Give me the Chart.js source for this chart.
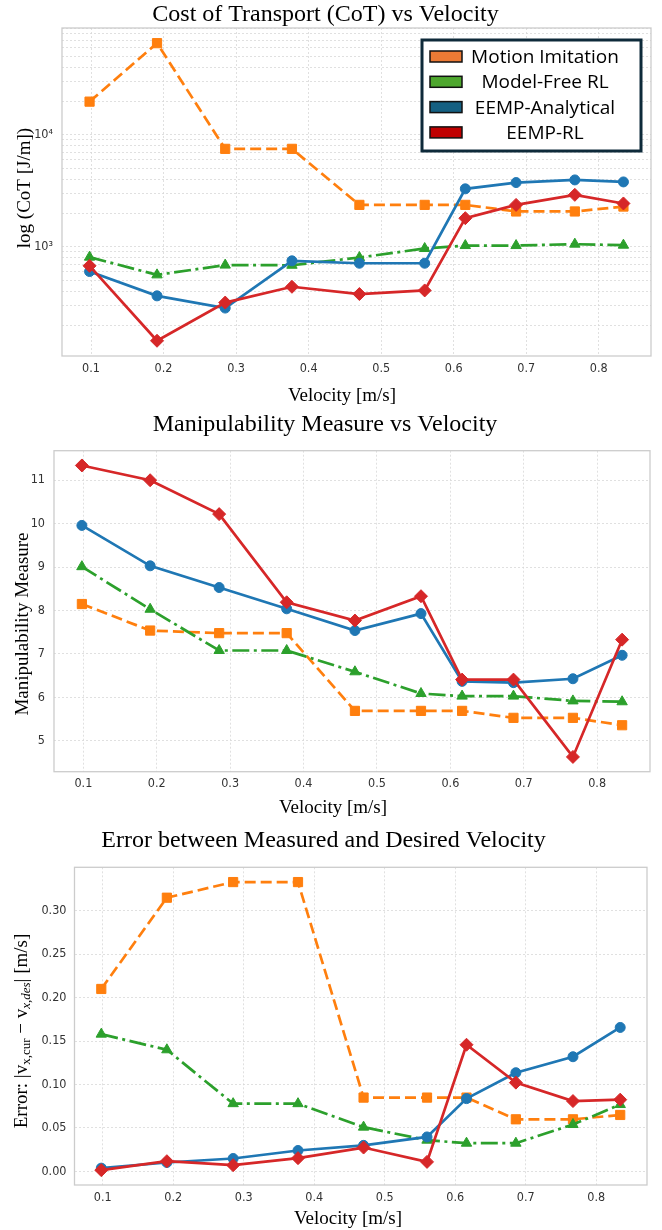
<!DOCTYPE html>
<html lang="en">
<head>
<meta charset="UTF-8">
<title>CoT, Manipulability and Velocity Error vs Velocity</title>
<script src="https://cdn.jsdelivr.net/npm/chart.js"></script>
<style>
  body { margin: 0; background: #fff; }
  .panel { position: absolute; left: 0; width: 662px; }
</style>
</head>
<body>
<div class="panel" style="top:0;height:405px"><canvas id="cotChart" width="662" height="405"></canvas></div>
<div class="panel" style="top:405px;height:413px"><canvas id="manipChart" width="662" height="413"></canvas></div>
<div class="panel" style="top:818px;height:412px"><canvas id="errChart" width="662" height="412"></canvas></div>

<script>
// ---- data ----
const velocity = [0.098, 0.191, 0.285, 0.377, 0.47, 0.56, 0.616, 0.686, 0.767, 0.834];
const methodNames = ['Motion Imitation', 'Model-Free RL', 'EEMP-Analytical', 'EEMP-RL'];

const cotMotion = [19800, 65900, 7500, 7500, 2370, 2370, 2370, 2070, 2070, 2290];
const cotModelFree = [809, 562, 687, 685, 803, 966, 1027, 1027, 1057, 1035];
const cotAnalytical = [602, 365, 284, 750, 714, 714, 3296, 3750, 3960, 3800];
const cotRL = [677, 145, 318, 440, 379, 408, 1803, 2370, 2913, 2440];

const manipMotion = [8.15, 7.54, 7.48, 7.48, 5.69, 5.69, 5.69, 5.53, 5.53, 5.36];
const manipModelFree = [9.01, 8.03, 7.08, 7.08, 6.59, 6.09, 6.03, 6.03, 5.92, 5.90];
const manipAnalytical = [9.96, 9.03, 8.53, 8.04, 7.54, 7.93, 6.37, 6.34, 6.43, 6.97];
const manipRL = [11.34, 11.0, 10.22, 8.19, 7.77, 8.33, 6.41, 6.41, 4.63, 7.33];

const errMotion = [0.210, 0.315, 0.333, 0.333, 0.085, 0.085, 0.085, 0.060, 0.060, 0.065];
const errModelFree = [0.158, 0.140, 0.078, 0.078, 0.051, 0.036, 0.0325, 0.0325, 0.054, 0.077];
const errAnalytical = [0.0038, 0.0103, 0.0149, 0.0241, 0.030, 0.0397, 0.0838, 0.1136, 0.132, 0.1657];
const errRL = [0.0015, 0.0118, 0.0072, 0.0153, 0.0275, 0.011, 0.1458, 0.1022, 0.081, 0.0826];

// ticks
const velocityTicks = [0.1, 0.2, 0.3, 0.4, 0.5, 0.6, 0.7, 0.8];
const cotGridTicks = [200, 300, 400, 500, 600, 700, 800, 900, 1000, 2000, 3000, 4000, 5000, 6000, 7000, 8000, 9000, 10000, 20000, 30000, 40000, 50000, 60000, 70000, 80000, 90000];
const cotLabelTicks = {1000: '10³', 10000: '10⁴'};
const manipTicks = [5, 6, 7, 8, 9, 10, 11];
const errTicks = [0, 0.05, 0.10, 0.15, 0.20, 0.25, 0.30];

// ---- styling ----
const lineColors = ['#ff7f0e', '#2ca02c', '#1f77b4', '#d62728'];
const legendColors = ['#ec7a35', '#4ea72e', '#156082', '#c00000'];
const dashes = [[11, 5], [17, 4.5, 3, 4.5], [], []];
const markers = ['rect', 'triangle', 'circle', 'rectRot'];
const markerRadius = [6.5, 6, 5, 6.5];
const drawOrder = [3, 2, 1, 0];

const tickFont = {family: "'DejaVu Sans Condensed', 'Liberation Sans', sans-serif", size: 12.5};
const serif = "'Liberation Serif', 'DejaVu Serif', serif";

function makeDatasets(series) {
  return series.map((vals, i) => ({
    label: methodNames[i],
    data: velocity.map((v, k) => ({x: v, y: vals[k]})),
    borderColor: lineColors[i],
    backgroundColor: lineColors[i],
    pointBackgroundColor: lineColors[i],
    pointBorderColor: lineColors[i],
    borderWidth: 2.7,
    borderDash: dashes[i],
    pointStyle: markers[i],
    pointRadius: markerRadius[i],
    pointBorderWidth: 1,
    order: drawOrder[i],
    tension: 0
  }));
}

const gridOpts = {color: '#d9d9d9', lineWidth: 0.8, drawTicks: false};
const borderOpts = {display: false, dash: [2, 2]};

function xScale(height) {
  return {
    type: 'linear', min: 0.06, max: 0.872,
    grid: gridOpts, border: borderOpts,
    ticks: {font: tickFont, color: '#333', padding: 5, autoSkip: false, maxRotation: 0,
      callback: v => v.toFixed(1)},
    afterBuildTicks: s => { s.ticks = velocityTicks.map(v => ({value: v})); },
    afterFit: s => { s.height = height; }
  };
}

// light grey box around the plot area
const framePlugin = {
  id: 'frame',
  beforeDatasetsDraw(chart) {
    const {ctx, chartArea: a} = chart;
    ctx.save();
    ctx.strokeStyle = '#cccccc';
    ctx.lineWidth = 1.3;
    ctx.strokeRect(a.left, a.top, a.right - a.left, a.bottom - a.top);
    ctx.restore();
  }
};

// axis captions (serif, with sub/superscript parts)
const captionsPlugin = {
  id: 'captions',
  afterDraw(chart, args, opts) {
    const ctx = chart.ctx;
    const items = opts.items || [];
    for (let n = 0; n < items.length; n++) {
      const item = items[n];
      const parts = [];
      let total = 0;
      for (let k = 0; k < item.parts.length; k++) {
        const p = item.parts[k];
        ctx.font = p.font;
        const w = ctx.measureText(p.text).width;
        parts.push({text: p.text, font: p.font, dy: p.dy || 0, w: w});
        total += w;
      }
      ctx.save();
      ctx.translate(item.x, item.y);
      if (item.rotate) ctx.rotate(-Math.PI / 2);
      ctx.fillStyle = '#000';
      ctx.textBaseline = 'middle';
      ctx.textAlign = 'left';
      let x = -total / 2;
      parts.forEach(p => { ctx.font = p.font; ctx.fillText(p.text, x, p.dy); x += p.w; });
      ctx.restore();
    }
  }
};

// boxed legend drawn inside the CoT plot
const boxLegendPlugin = {
  id: 'boxLegend',
  afterDraw(chart, args, opts) {
    const ctx = chart.ctx;
    ctx.save();
    ctx.fillStyle = '#fff';
    ctx.fillRect(opts.left, opts.top, opts.width, opts.height);
    ctx.lineWidth = 3;
    ctx.strokeStyle = '#0e2a3a';
    ctx.strokeRect(opts.left, opts.top, opts.width, opts.height);
    ctx.font = "19px 'Open Sans', sans-serif";
    ctx.textAlign = 'center';
    ctx.textBaseline = 'middle';
    methodNames.forEach((name, i) => {
      const cy = opts.firstRow + i * opts.rowGap;
      ctx.fillStyle = legendColors[i];
      ctx.fillRect(opts.left + 8, cy - 5.5, 32, 11);
      ctx.lineWidth = 1.5;
      ctx.strokeStyle = '#111';
      ctx.strokeRect(opts.left + 8, cy - 5.5, 32, 11);
      ctx.fillStyle = '#000';
      ctx.fillText(name, opts.textCenter, cy + 1);
    });
    ctx.restore();
  }
};

function titleOpts(text, top, bottom) {
  return {display: true, text: text, color: '#000',
    font: {family: serif, size: 24, weight: 'normal', lineHeight: 1.1},
    padding: {top: top, bottom: bottom}};
}

// ---- chart 1: cost of transport (log) ----
new Chart(document.getElementById('cotChart'), {
  type: 'line',
  data: {datasets: makeDatasets([cotMotion, cotModelFree, cotAnalytical, cotRL])},
  options: {
    responsive: false, animation: false,
    layout: {padding: {left: 0, right: 11, top: 0, bottom: 0}},
    plugins: {
      legend: {display: false}, tooltip: {enabled: false},
      title: titleOpts('Cost of Transport (CoT) vs Velocity', 1.3, 0.3),
      boxLegend: {left: 422, top: 40, width: 219, height: 111, firstRow: 56.5, rowGap: 25.3, textCenter: 545},
      captions: {items: [
        {x: 342, y: 396, parts: [{text: 'Velocity [m/s]', font: '19px ' + serif}]},
        {x: 25, y: 188, rotate: true, parts: [{text: 'log (CoT [J/m])', font: '19px ' + serif}]}
      ]}
    },
    scales: {
      x: xScale(49),
      y: {
        type: 'logarithmic', min: 106, max: 90000,
        grid: gridOpts, border: borderOpts,
        ticks: {font: tickFont, color: '#333', padding: 9, autoSkip: false,
          callback: v => cotLabelTicks[v] || ''},
        afterBuildTicks: s => { s.ticks = cotGridTicks.map(v => ({value: v})); },
        afterFit: s => { s.width = 62; }
      }
    }
  },
  plugins: [framePlugin, captionsPlugin, boxLegendPlugin]
});

// ---- chart 2: manipulability ----
new Chart(document.getElementById('manipChart'), {
  type: 'line',
  data: {datasets: makeDatasets([manipMotion, manipModelFree, manipAnalytical, manipRL])},
  options: {
    responsive: false, animation: false,
    layout: {padding: {left: 0, right: 12, top: 0, bottom: 0}},
    plugins: {
      legend: {display: false}, tooltip: {enabled: false},
      title: titleOpts('Manipulability Measure vs Velocity', 6.9, 12.4),
      captions: {items: [
        {x: 333, y: 403, parts: [{text: 'Velocity [m/s]', font: '19px ' + serif}]},
        {x: 23, y: 219, rotate: true, parts: [{text: 'Manipulability Measure', font: '19px ' + serif}]}
      ]}
    },
    scales: {
      x: xScale(46.3),
      y: {
        type: 'linear', min: 4.29, max: 11.68,
        grid: gridOpts, border: borderOpts,
        ticks: {font: tickFont, color: '#333', padding: 9, autoSkip: false,
          callback: v => String(v)},
        afterBuildTicks: s => { s.ticks = manipTicks.map(v => ({value: v})); },
        afterFit: s => { s.width = 54; }
      }
    }
  },
  plugins: [framePlugin, captionsPlugin]
});

// ---- chart 3: velocity tracking error ----
new Chart(document.getElementById('errChart'), {
  type: 'line',
  data: {datasets: makeDatasets([errMotion, errModelFree, errAnalytical, errRL])},
  options: {
    responsive: false, animation: false,
    layout: {padding: {left: 0, right: 15, top: 0, bottom: 0}},
    plugins: {
      legend: {display: false}, tooltip: {enabled: false},
      title: titleOpts('Error between Measured and Desired Velocity', 9.9, 13),
      captions: {items: [
        {x: 348, y: 401, parts: [{text: 'Velocity [m/s]', font: '19px ' + serif}]},
        {x: 22, y: 213, rotate: true, parts: [
          {text: 'Error: |v', font: '19px ' + serif},
          {text: 'x,cur', font: '13px ' + serif, dy: 5},
          {text: ' − v', font: '19px ' + serif},
          {text: 'x,des', font: 'italic 13px ' + serif, dy: 5},
          {text: '| [m/s]', font: '19px ' + serif}
        ]}
      ]}
    },
    scales: {
      x: xScale(45),
      y: {
        type: 'linear', min: -0.0156, max: 0.35,
        grid: gridOpts, border: borderOpts,
        ticks: {font: tickFont, color: '#333', padding: 8, autoSkip: false,
          callback: v => v.toFixed(2)},
        afterBuildTicks: s => { s.ticks = errTicks.map(v => ({value: v})); },
        afterFit: s => { s.width = 74.5; }
      }
    }
  },
  plugins: [framePlugin, captionsPlugin]
});
</script>
</body>
</html>
